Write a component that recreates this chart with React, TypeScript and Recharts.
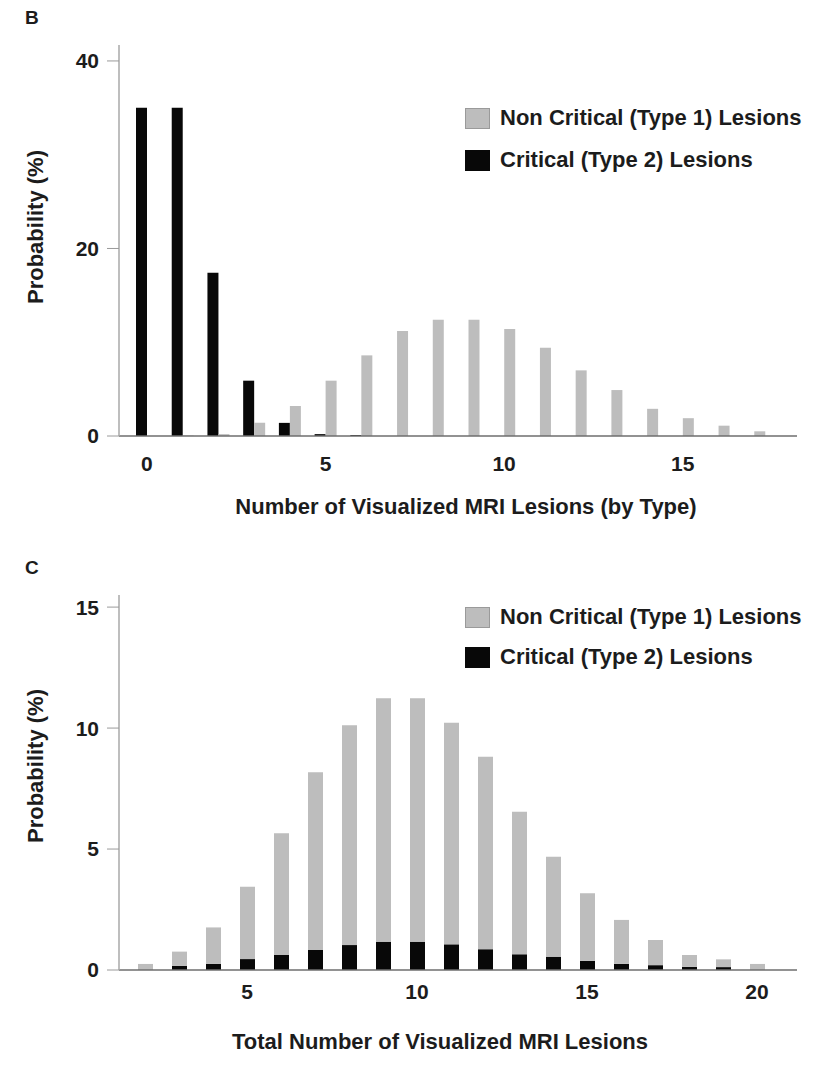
import { Bar, BarChart, Label, Legend, XAxis, YAxis } from "recharts";

const FONT = '"Liberation Sans", Arial, sans-serif';
const GRAY = "#bdbdbd";
const BLACK = "#080808";
const TEXT = "#1c1c1c";

// Panel B: lesions counted by type
const typeCounts = [0, 1, 2, 3, 4, 5, 6, 7, 8, 9, 10, 11, 12, 13, 14, 15, 16, 17];
const criticalByType = [35, 35, 17.4, 5.9, 1.4, 0.2, 0.1, 0, 0, 0, 0, 0, 0, 0, 0, 0, 0, 0];
const nonCriticalByType = [0, 0.05, 0.2, 1.4, 3.2, 5.9, 8.6, 11.2, 12.4, 12.4, 11.4, 9.4, 7.0, 4.9, 2.9, 1.9, 1.1, 0.5];
const ticksB = [0, 5, 10, 15];
const yTicksB = [0, 20, 40];

// Panel C: total number of lesions
const totalCounts = [2, 3, 4, 5, 6, 7, 8, 9, 10, 11, 12, 13, 14, 15, 16, 17, 18, 19, 20];
const criticalByTotal = [0, 0.17, 0.25, 0.45, 0.62, 0.83, 1.03, 1.17, 1.17, 1.06, 0.86, 0.65, 0.55, 0.38, 0.25, 0.2, 0.13, 0.12, 0];
const nonCriticalByTotal = [0.25, 0.59, 1.51, 2.99, 5.03, 7.34, 9.09, 10.06, 10.06, 9.16, 7.95, 5.89, 4.13, 2.79, 1.82, 1.04, 0.49, 0.32, 0.25];
const ticksC = [5, 10, 15, 20];
const yTicksC = [0, 5, 10, 15];

const rowsB = typeCounts.map((n, i) => ({
  n,
  critical: criticalByType[i],
  nonCritical: nonCriticalByType[i],
}));

const rowsC = totalCounts.map((n, i) => ({
  n,
  critical: criticalByTotal[i],
  nonCritical: nonCriticalByTotal[i],
}));

const tickStyle = { fill: TEXT, fontSize: 21, fontWeight: 700, fontFamily: FONT };

function LesionLegend({ rowHeight }: { rowHeight: number }) {
  const items = [
    { label: "Non Critical (Type 1) Lesions", fill: GRAY, stroke: "#9a9a9a" },
    { label: "Critical (Type 2) Lesions", fill: BLACK, stroke: BLACK },
  ];
  return (
    <div style={{ fontFamily: FONT, fontWeight: 700, fontSize: 22, color: TEXT }}>
      {items.map((it) => (
        <div
          key={it.label}
          style={{ display: "flex", alignItems: "center", height: rowHeight, whiteSpace: "nowrap" }}
        >
          <span
            style={{
              display: "inline-block",
              width: 23,
              height: 19,
              background: it.fill,
              border: `1px solid ${it.stroke}`,
              marginRight: 10,
            }}
          />
          {it.label}
        </div>
      ))}
    </div>
  );
}

function yTitle(cy: number) {
  return () => (
    <text
      x={35}
      y={cy}
      transform={`rotate(-90 35 ${cy})`}
      textAnchor="middle"
      dominantBaseline="central"
      fill={TEXT}
      fontSize={22}
      fontWeight={700}
      fontFamily={FONT}
    >
      Probability (%)
    </text>
  );
}

function xTitle(text: string, cx: number, cy: number) {
  return () => (
    <text
      x={cx}
      y={cy}
      textAnchor="middle"
      dominantBaseline="central"
      fill={TEXT}
      fontSize={22}
      fontWeight={700}
      fontFamily={FONT}
    >
      {text}
    </text>
  );
}

function PanelLetter({ letter, top }: { letter: string; top: number }) {
  return (
    <div
      style={{
        position: "absolute",
        left: 25,
        top,
        fontFamily: FONT,
        fontWeight: 700,
        fontSize: 19,
        color: TEXT,
        lineHeight: "20px",
      }}
    >
      {letter}
    </div>
  );
}

export default function App() {
  return (
    <div
      style={{
        position: "absolute",
        top: 0,
        left: 0,
        width: 822,
        height: 1085,
        background: "#fff",
        overflow: "hidden",
      }}
    >
      <PanelLetter letter="B" top={8} />
      <div style={{ position: "absolute", top: 0, left: 0 }}>
        <BarChart
          width={822}
          height={540}
          data={rowsB}
          margin={{ top: 45, right: 25, bottom: 74, left: 0 }}
          barGap={0}
          barSize={11}
        >
          <XAxis
            dataKey="n"
            ticks={ticksB}
            padding={{ left: 10, right: 25 }}
            tickLine={false}
            axisLine={{ stroke: "#6e6e6e", strokeWidth: 1.5 }}
            tick={tickStyle}
            tickMargin={14}
            height={30}
          >
            <Label content={xTitle("Number of Visualized MRI Lesions (by Type)", 466, 506)} />
          </XAxis>
          <YAxis
            width={119}
            domain={[0, 41.7]}
            ticks={yTicksB}
            tickSize={12}
            tickMargin={8}
            tickLine={{ stroke: "#9a9a9a" }}
            axisLine={{ stroke: "#a8a8a8", strokeWidth: 1.5 }}
            tick={tickStyle}
          >
            <Label content={yTitle(227)} />
          </YAxis>
          <Legend
            layout="vertical"
            align="center"
            verticalAlign="middle"
            wrapperStyle={{ top: 97, left: 465, width: 357 }}
            content={() => <LesionLegend rowHeight={42} />}
          />
          <Bar dataKey="critical" fill={BLACK} isAnimationActive={false} />
          <Bar dataKey="nonCritical" fill={GRAY} isAnimationActive={false} />
        </BarChart>
      </div>

      <PanelLetter letter="C" top={558} />
      <div style={{ position: "absolute", top: 540, left: 0 }}>
        <BarChart
          width={822}
          height={545}
          data={rowsC}
          margin={{ top: 55, right: 25, bottom: 85, left: 0 }}
          barSize={15}
        >
          <XAxis
            dataKey="n"
            ticks={ticksC}
            padding={{ left: 9, right: 23 }}
            tickLine={false}
            axisLine={{ stroke: "#6e6e6e", strokeWidth: 1.5 }}
            tick={tickStyle}
            tickMargin={8}
            height={30}
          >
            <Label content={xTitle("Total Number of Visualized MRI Lesions", 440, 501)} />
          </XAxis>
          <YAxis
            width={119}
            domain={[0, 15.5]}
            ticks={yTicksC}
            tickSize={12}
            tickMargin={8}
            tickLine={{ stroke: "#9a9a9a" }}
            axisLine={{ stroke: "#a8a8a8", strokeWidth: 1.5 }}
            tick={tickStyle}
          >
            <Label content={yTitle(226)} />
          </YAxis>
          <Legend
            layout="vertical"
            align="center"
            verticalAlign="middle"
            wrapperStyle={{ top: 57, left: 465, width: 357 }}
            content={() => <LesionLegend rowHeight={40} />}
          />
          <Bar dataKey="critical" stackId="total" fill={BLACK} isAnimationActive={false} />
          <Bar dataKey="nonCritical" stackId="total" fill={GRAY} isAnimationActive={false} />
        </BarChart>
      </div>
    </div>
  );
}
